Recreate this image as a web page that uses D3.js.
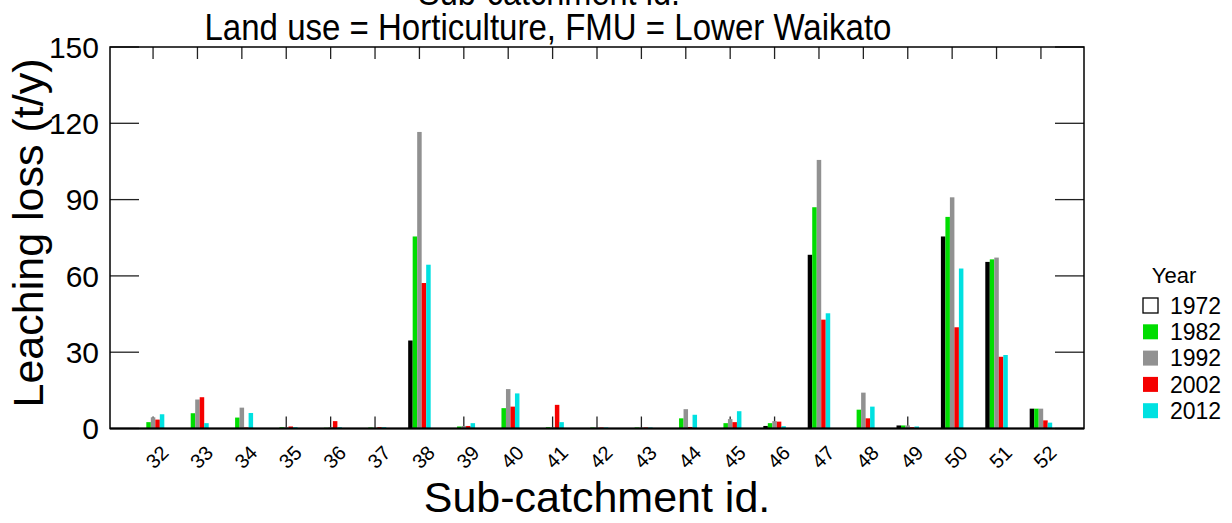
<!DOCTYPE html>
<html>
<head>
<meta charset="utf-8">
<script src="https://cdn.jsdelivr.net/npm/d3@7"></script>
<style>
  html, body { margin: 0; padding: 0; background: #fff; }
  svg { display: block; font-family: "Liberation Sans", Arial, sans-serif; }
</style>
</head>
<body>
<svg id="chart" width="1232" height="523"></svg>
<script>
const categories = ["32","33","34","35","36","37","38","39","40","41","42","43","44","45","46","47","48","49","50","51","52"];
const years = ["1972","1982","1992","2002","2012"];
const v1972 = [0,0,0,0,0,0,34.6,0,0,0,0,0,0,0,1.0,68.3,0,1.2,75.5,65.5,7.8];
const v1982 = [2.5,6.0,4.3,0.5,0.3,0.4,75.5,0.8,8.0,0.5,0.4,0.4,4.0,2.1,2.1,87.0,7.4,1.2,83.2,66.5,7.8];
const v1992 = [4.4,11.4,8.2,0.5,0.5,0.3,116.6,1.0,15.5,0.5,0.4,0.4,7.6,3.7,2.9,105.6,14.1,1.2,90.9,67.2,7.8];
const v2002 = [3.5,12.3,0.4,0.8,2.9,0.5,57.2,1.0,8.6,9.3,0.4,0.4,0.6,2.5,2.7,42.8,4.0,0.5,39.8,28.2,3.2];
const v2012 = [5.6,2.1,6.1,0.5,0.5,0.5,64.4,2.1,13.8,2.5,0.4,0.4,5.4,6.8,0.9,45.3,8.6,0.8,62.9,28.9,2.3];
const yTicks = [0,30,60,90,120,150];
const colors = ["#000000","#00dd00","#919191","#f50000","#00e1e1"];
const titleMain = "Sub-catchment id.";
const titleSub = "Land use = Horticulture, FMU = Lower Waikato";
const xTitle = "Sub-catchment id.";
const yTitle = "Leaching loss (t/y)";
const legendTitle = "Year";

const series = [v1972, v1982, v1992, v2002, v2012];

const svg = d3.select("#chart");
const L = 110, R = 1084, T = 47, B = 428.5;

const x = d3.scalePoint().domain(categories).range([L, R]).padding(0.97);
const y = d3.scaleLinear().domain([0, 150]).range([B, T]);
const barW = 4.5;

// inward category ticks (bottom & top), drawn under bars
const tickLen = 12;
svg.append("g").selectAll("line").data(categories).join("line")
  .attr("x1", d => x(d)).attr("x2", d => x(d))
  .attr("y1", B).attr("y2", B - tickLen)
  .attr("stroke", "#222").attr("stroke-width", 1.3);
svg.append("g").selectAll("line").data(categories).join("line")
  .attr("x1", d => x(d)).attr("x2", d => x(d))
  .attr("y1", T).attr("y2", T + tickLen)
  .attr("stroke", "#222").attr("stroke-width", 1.3);

// y ticks left & right (inward)
const yTickLen = 29;
svg.append("g").selectAll("line").data(yTicks).join("line")
  .attr("x1", L).attr("x2", L + yTickLen)
  .attr("y1", d => y(d)).attr("y2", d => y(d))
  .attr("stroke", "#222").attr("stroke-width", 1.3);
svg.append("g").selectAll("line").data(yTicks).join("line")
  .attr("x1", R).attr("x2", R - yTickLen)
  .attr("y1", d => y(d)).attr("y2", d => y(d))
  .attr("stroke", "#222").attr("stroke-width", 1.3);

// bars
series.forEach((vals, si) => {
  svg.append("g").selectAll("rect").data(vals).join("rect")
    .attr("x", (v, i) => x(categories[i]) + (si - 2) * barW - barW / 2)
    .attr("width", barW)
    .attr("y", v => y(v))
    .attr("height", v => y(0) - y(v))
    .attr("fill", colors[si]);
});

// frame
svg.append("rect").attr("x", L).attr("y", T).attr("width", R - L).attr("height", B - T)
  .attr("fill", "none").attr("stroke", "#000").attr("stroke-width", 1.5);
svg.append("line").attr("x1", L).attr("x2", R).attr("y1", B).attr("y2", B)
  .attr("stroke", "#000").attr("stroke-width", 2);

// y tick labels
svg.append("g").selectAll("text").data(yTicks).join("text")
  .attr("x", 99).attr("y", d => y(d)).attr("dy", "0.36em")
  .attr("text-anchor", "end").attr("font-size", 30).text(d => d);

// x tick labels rotated
svg.append("g").selectAll("text").data(categories).join("text")
  .attr("transform", d => `translate(${x(d) + 4},${457}) rotate(-45)`)
  .attr("text-anchor", "middle").attr("dy", "0.35em")
  .attr("font-size", 20).text(d => d);

// titles
svg.append("text").attr("x", 549).attr("y", 5).attr("text-anchor", "middle")
  .attr("font-size", 36).attr("textLength", 262).attr("lengthAdjust", "spacingAndGlyphs").text(titleMain);
svg.append("text").attr("x", 548).attr("y", 40).attr("text-anchor", "middle")
  .attr("font-size", 36).attr("textLength", 687).attr("lengthAdjust", "spacingAndGlyphs").text(titleSub);
svg.append("text").attr("x", 597).attr("y", 512).attr("text-anchor", "middle")
  .attr("font-size", 43).text(xTitle);
svg.append("text").attr("transform", `translate(43,233) rotate(-90)`)
  .attr("text-anchor", "middle").attr("font-size", 43).text(yTitle);

// legend
const lg = svg.append("g");
lg.append("text").attr("x", 1174).attr("y", 283).attr("text-anchor", "middle")
  .attr("font-size", 22).text(legendTitle);
years.forEach((yr, i) => {
  const yy = 298 + i * 26.3;
  lg.append("rect").attr("x", 1143).attr("y", yy).attr("width", 15).attr("height", 15)
    .attr("fill", i === 0 ? "#fff" : colors[i])
    .attr("stroke", i === 0 ? "#000" : "none").attr("stroke-width", 1.3);
  lg.append("text").attr("x", 1170).attr("y", yy + 7.5).attr("dy", "0.36em")
    .attr("font-size", 23).text(yr);
});
</script>
</body>
</html>
